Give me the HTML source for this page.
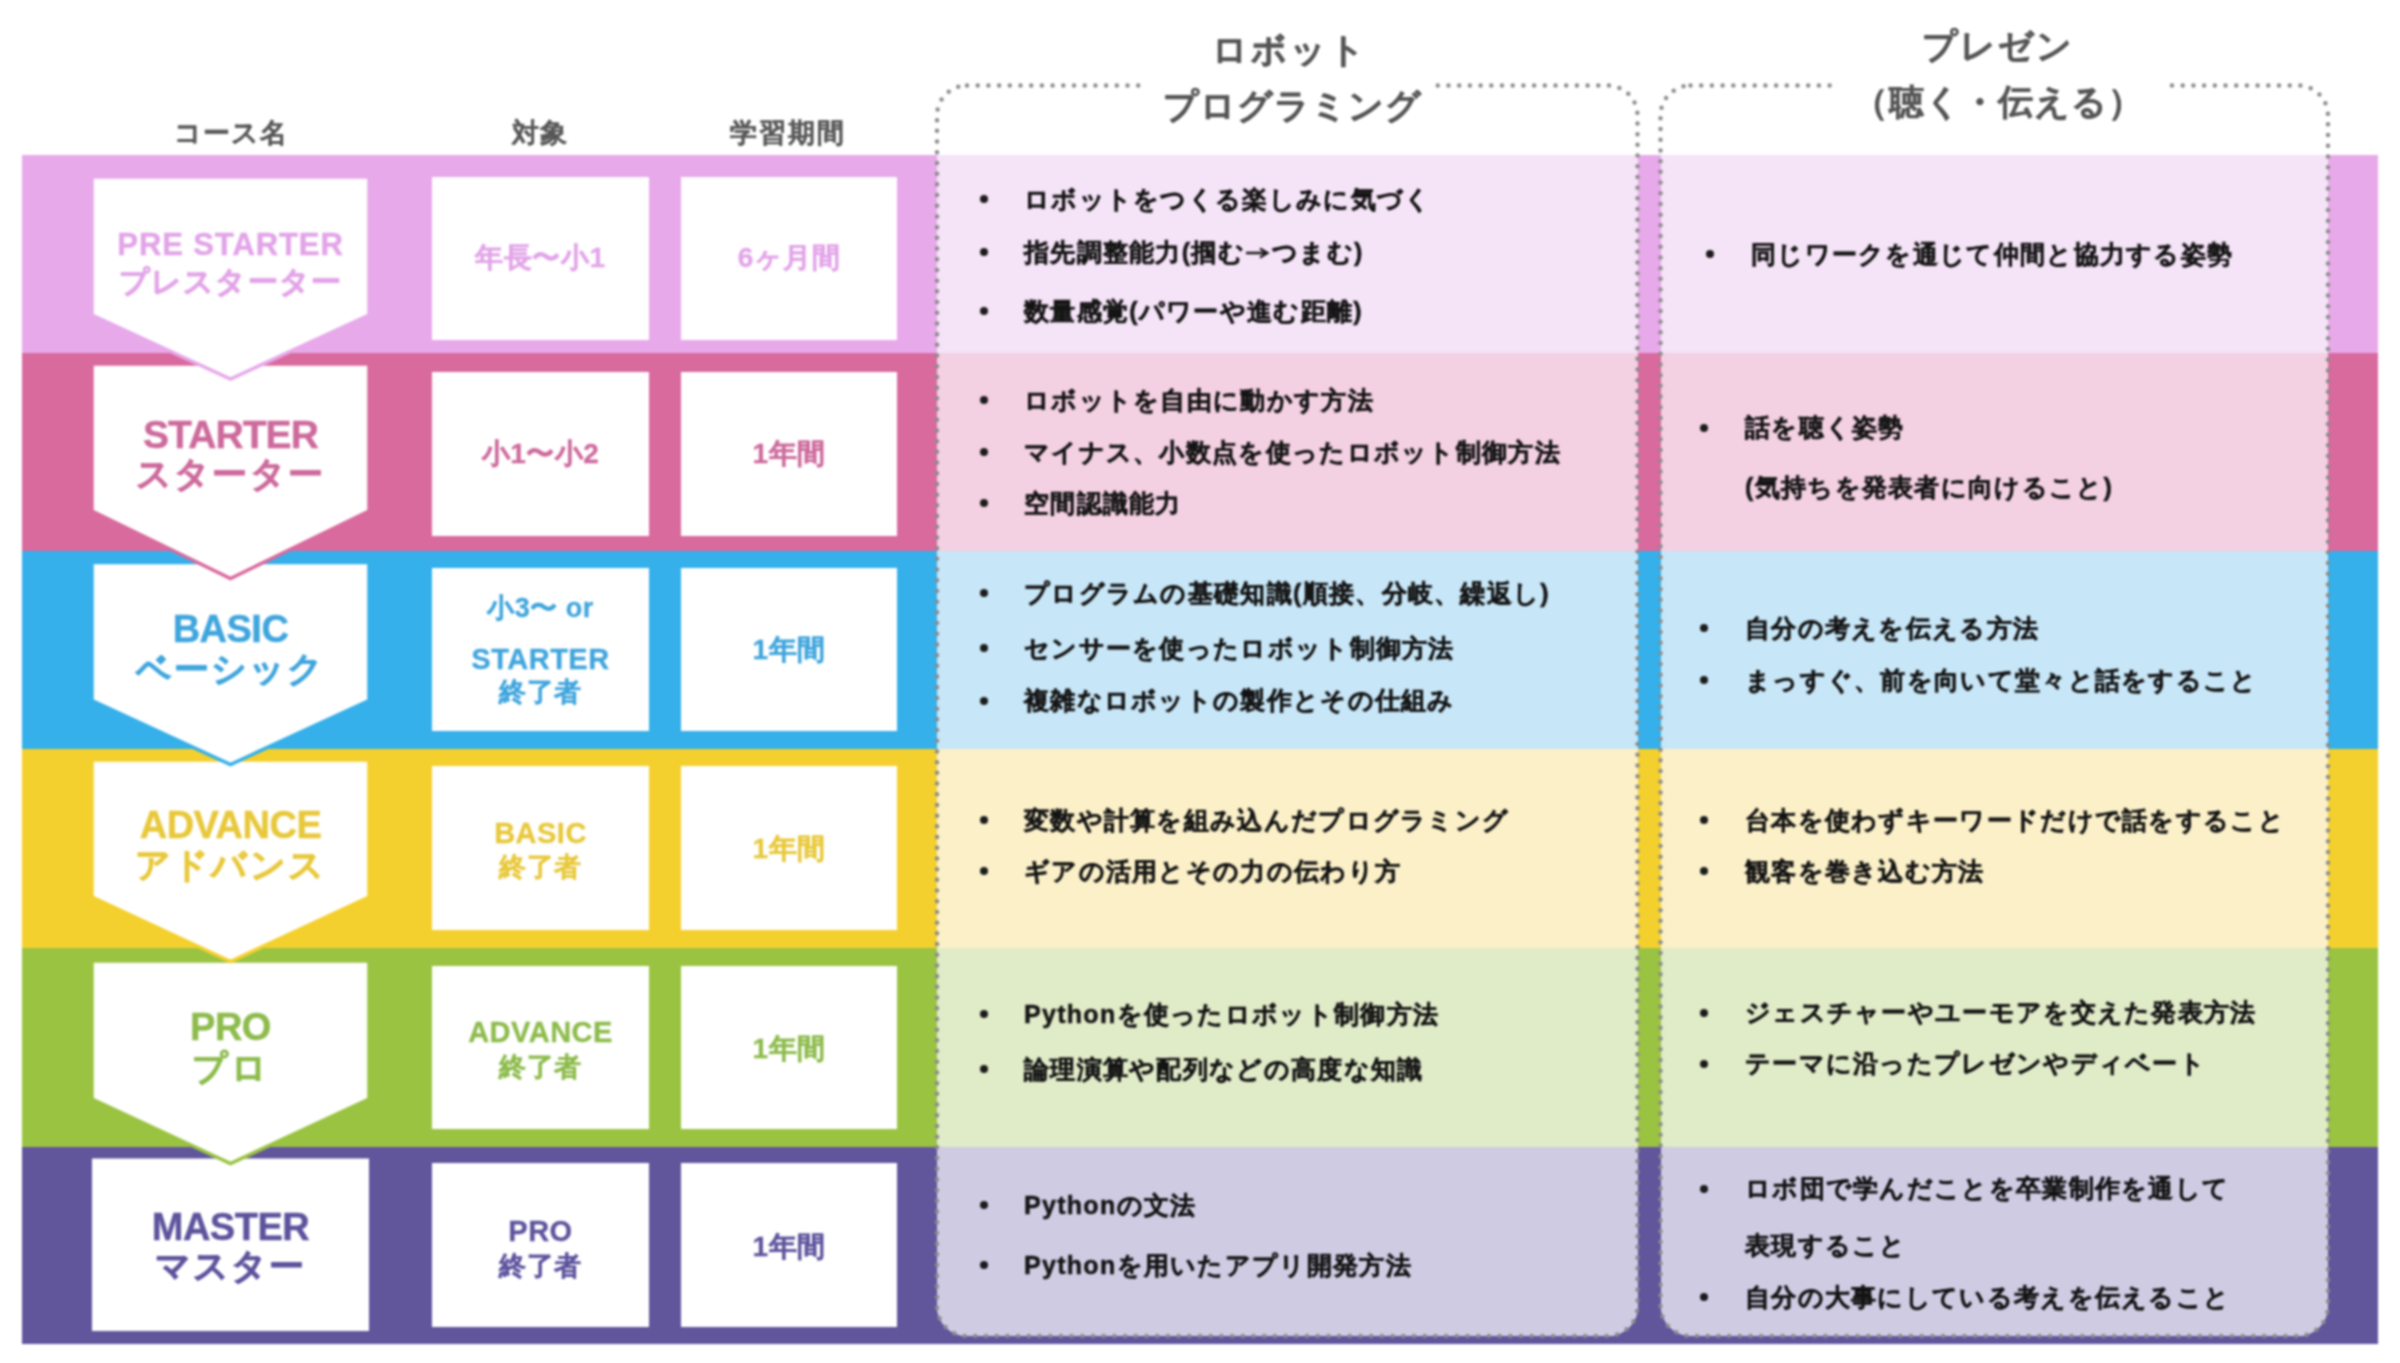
<!DOCTYPE html>
<html lang="ja"><head><meta charset="utf-8"><title>ロボ団 コース一覧</title>
<style>
html,body{margin:0;padding:0;background:#fff;}
body{width:2400px;height:1363px;position:relative;overflow:hidden;font-family:"Liberation Sans",sans-serif;font-weight:bold;}
.abs{position:absolute;}
.wrap{position:absolute;left:0;top:0;width:2400px;height:1363px;overflow:hidden;filter:blur(0.8px);}
.band{position:absolute;left:22px;width:2356px;}
.wbox{position:absolute;background:#fff;}
.cbox{position:absolute;border-radius:30px;overflow:hidden;background:#fff;}
.t{position:absolute;white-space:nowrap;line-height:1;}
.c{text-align:center;}
.hd{color:#4f4f4f;}
.li{position:absolute;white-space:nowrap;font-size:25px;letter-spacing:1.3px;color:#141414;line-height:30px;height:30px;-webkit-text-stroke:0.5px #141414;}
.bu{position:absolute;width:8px;height:8px;border-radius:50%;background:#1b1b1b;}
</style></head><body><div class="wrap">
<div class="band" style="top:155px;height:198px;background:#E7A9EA"></div>
<div class="band" style="top:353px;height:198px;background:#D96A9E"></div>
<div class="band" style="top:551px;height:198px;background:#35B0EA"></div>
<div class="band" style="top:749px;height:199px;background:#F4D02E"></div>
<div class="band" style="top:948px;height:199px;background:#9AC342"></div>
<div class="band" style="top:1147px;height:196.5px;background:#61559C"></div>
<div class="wbox" style="left:432px;top:177px;width:217px;height:163px"></div>
<div class="wbox" style="left:681px;top:177px;width:216px;height:163px"></div>
<div class="wbox" style="left:432px;top:372px;width:217px;height:164px"></div>
<div class="wbox" style="left:681px;top:372px;width:216px;height:164px"></div>
<div class="wbox" style="left:432px;top:567.5px;width:217px;height:163.5px"></div>
<div class="wbox" style="left:681px;top:567.5px;width:216px;height:163.5px"></div>
<div class="wbox" style="left:432px;top:766px;width:217px;height:164px"></div>
<div class="wbox" style="left:681px;top:766px;width:216px;height:164px"></div>
<div class="wbox" style="left:432px;top:966px;width:217px;height:163px"></div>
<div class="wbox" style="left:681px;top:966px;width:216px;height:163px"></div>
<div class="wbox" style="left:432px;top:1163px;width:217px;height:164px"></div>
<div class="wbox" style="left:681px;top:1163px;width:216px;height:164px"></div>
<div class="cbox" style="left:937px;top:85.5px;width:700.5px;height:1250.5px">
<div class="abs" style="left:0;right:0;top:69.5px;height:198px;background:#F5E3F7"></div>
<div class="abs" style="left:0;right:0;top:267.5px;height:198px;background:#F3D0E2"></div>
<div class="abs" style="left:0;right:0;top:465.5px;height:198px;background:#C7E6F7"></div>
<div class="abs" style="left:0;right:0;top:663.5px;height:199px;background:#FBF0C8"></div>
<div class="abs" style="left:0;right:0;top:862.5px;height:199px;background:#E0EBC8"></div>
<div class="abs" style="left:0;right:0;top:1061.5px;height:196.5px;background:#CFCBE3"></div>
</div>
<div class="cbox" style="left:1660.5px;top:85.5px;width:667.5px;height:1250.5px">
<div class="abs" style="left:0;right:0;top:69.5px;height:198px;background:#F5E3F7"></div>
<div class="abs" style="left:0;right:0;top:267.5px;height:198px;background:#F3D0E2"></div>
<div class="abs" style="left:0;right:0;top:465.5px;height:198px;background:#C7E6F7"></div>
<div class="abs" style="left:0;right:0;top:663.5px;height:199px;background:#FBF0C8"></div>
<div class="abs" style="left:0;right:0;top:862.5px;height:199px;background:#E0EBC8"></div>
<div class="abs" style="left:0;right:0;top:1061.5px;height:196.5px;background:#CFCBE3"></div>
</div>
<svg class="abs" style="left:0;top:0" width="2400" height="1363" viewBox="0 0 2400 1363">
<rect x="92" y="1158.5" width="277" height="172.5" fill="#fff"/>
<polygon points="92,961 369,961 369,1099 230.5,1163.5 92,1099" fill="#fff" stroke="#9AC342" stroke-width="3.5" stroke-linejoin="miter"/>
<polygon points="92,760 369,760 369,897 230.5,961.5 92,897" fill="#fff" stroke="#F4D02E" stroke-width="3.5" stroke-linejoin="miter"/>
<polygon points="92,562.5 369,562.5 369,700.6 230.5,764.5 92,700.6" fill="#fff" stroke="#35B0EA" stroke-width="3.5" stroke-linejoin="miter"/>
<polygon points="92,364 369,364 369,511 230.5,578.5 92,511" fill="#fff" stroke="#D96A9E" stroke-width="3.5" stroke-linejoin="miter"/>
<polygon points="92,177 369,177 369,315 230.5,379.0 92,315" fill="#fff" stroke="#E7A9EA" stroke-width="3.5" stroke-linejoin="miter"/>
<rect x="937" y="85.5" width="700.5" height="1250.5" rx="30" ry="30" fill="none" stroke="#8c8c8c" stroke-width="4.5" stroke-dasharray="0 10.7" stroke-linecap="round"/>
<rect x="1660.5" y="85.5" width="667.5" height="1250.5" rx="30" ry="30" fill="none" stroke="#8c8c8c" stroke-width="4.5" stroke-dasharray="0 10.7" stroke-linecap="round"/>
<rect x="1146" y="78" width="289" height="16" fill="#fff"/>
<rect x="1837" y="78" width="327" height="16" fill="#fff"/>
</svg>
<div class="t" style="left:-69px;width:600px;top:120px;font-size:27px;color:#575757;text-align:center;-webkit-text-stroke:0.2px #575757;letter-spacing:1.2px;">コース名</div>
<div class="t" style="left:240px;width:600px;top:120px;font-size:27px;color:#575757;text-align:center;-webkit-text-stroke:0.2px #575757;letter-spacing:1px;">対象</div>
<div class="t" style="left:488px;width:600px;top:120px;font-size:27px;color:#575757;text-align:center;-webkit-text-stroke:0.2px #575757;letter-spacing:1.8px;">学習期間</div>
<div class="t" style="left:990px;width:600px;top:32px;font-size:35px;color:#555;text-align:center;letter-spacing:1px;-webkit-text-stroke:0.55px #555;letter-spacing:2.8px;">ロボット</div>
<div class="t" style="left:992px;width:600px;top:88px;font-size:35px;color:#555;text-align:center;letter-spacing:1px;-webkit-text-stroke:0.55px #555;">プログラミング</div>
<div class="t" style="left:1698px;width:600px;top:27.5px;font-size:35px;color:#555;text-align:center;letter-spacing:1px;-webkit-text-stroke:0.55px #555;letter-spacing:2.2px;">プレゼン</div>
<div class="t" style="left:1698px;width:600px;top:84px;font-size:35px;color:#555;text-align:center;letter-spacing:1px;-webkit-text-stroke:0.55px #555;">（聴く・伝える）</div>
<div class="t" style="left:-69.5px;width:600px;top:228.5px;font-size:31px;color:#E2A4E8;text-align:center;letter-spacing:0.9px;-webkit-text-stroke:0.45px #E2A4E8;">PRE STARTER</div>
<div class="t" style="left:-69.5px;width:600px;top:266.5px;font-size:30px;color:#E2A4E8;text-align:center;letter-spacing:1.2px;-webkit-text-stroke:0.8px #E2A4E8;">プレスターター</div>
<div class="t" style="left:-69.5px;width:600px;top:415px;font-size:39px;color:#CD6A9C;text-align:center;letter-spacing:-0.9px;-webkit-text-stroke:0.45px #CD6A9C;">STARTER</div>
<div class="t" style="left:-69.5px;width:600px;top:456px;font-size:35px;color:#CD6A9C;text-align:center;letter-spacing:2.2px;-webkit-text-stroke:0.8px #CD6A9C;">スターター</div>
<div class="t" style="left:-69.5px;width:600px;top:610px;font-size:38px;color:#3FA5DD;text-align:center;letter-spacing:-0.5px;-webkit-text-stroke:0.45px #3FA5DD;">BASIC</div>
<div class="t" style="left:-69.5px;width:600px;top:651px;font-size:35px;color:#3FA5DD;text-align:center;letter-spacing:2.2px;-webkit-text-stroke:0.8px #3FA5DD;">ベーシック</div>
<div class="t" style="left:-69.5px;width:600px;top:806px;font-size:38px;color:#E8C83A;text-align:center;letter-spacing:-0.5px;-webkit-text-stroke:0.45px #E8C83A;">ADVANCE</div>
<div class="t" style="left:-69.5px;width:600px;top:847px;font-size:35px;color:#E8C83A;text-align:center;letter-spacing:2.2px;-webkit-text-stroke:0.8px #E8C83A;">アドバンス</div>
<div class="t" style="left:-69.5px;width:600px;top:1008px;font-size:38px;color:#8DBB4C;text-align:center;letter-spacing:-0.5px;-webkit-text-stroke:0.45px #8DBB4C;">PRO</div>
<div class="t" style="left:-69.5px;width:600px;top:1050px;font-size:35px;color:#8DBB4C;text-align:center;letter-spacing:3px;-webkit-text-stroke:0.8px #8DBB4C;">プロ</div>
<div class="t" style="left:-69.5px;width:600px;top:1208px;font-size:38px;color:#5D539D;text-align:center;letter-spacing:-0.5px;-webkit-text-stroke:0.45px #5D539D;">MASTER</div>
<div class="t" style="left:-69.5px;width:600px;top:1248px;font-size:35px;color:#5D539D;text-align:center;letter-spacing:2.2px;-webkit-text-stroke:0.8px #5D539D;">マスター</div>
<div class="t" style="left:240.5px;width:600px;top:244px;font-size:28px;color:#E2A4E8;text-align:center;letter-spacing:0.5px;-webkit-text-stroke:0.3px #E2A4E8;">年長〜小1</div>
<div class="t" style="left:240.5px;width:600px;top:440px;font-size:28px;color:#CD6A9C;text-align:center;letter-spacing:0.5px;-webkit-text-stroke:0.3px #CD6A9C;">小1〜小2</div>
<div class="t" style="left:240.5px;width:600px;top:595px;font-size:27px;color:#3FA5DD;text-align:center;letter-spacing:0.5px;-webkit-text-stroke:0.3px #3FA5DD;">小3〜 or</div>
<div class="t" style="left:240.5px;width:600px;top:645.2px;font-size:29px;color:#3FA5DD;text-align:center;letter-spacing:0.5px;-webkit-text-stroke:0.3px #3FA5DD;">STARTER</div>
<div class="t" style="left:240.5px;width:600px;top:679px;font-size:27px;color:#3FA5DD;text-align:center;letter-spacing:0.5px;-webkit-text-stroke:0.3px #3FA5DD;">終了者</div>
<div class="t" style="left:240.5px;width:600px;top:819px;font-size:29px;color:#E8C83A;text-align:center;letter-spacing:0.5px;-webkit-text-stroke:0.3px #E8C83A;">BASIC</div>
<div class="t" style="left:240.5px;width:600px;top:853.5px;font-size:27px;color:#E8C83A;text-align:center;letter-spacing:0.5px;-webkit-text-stroke:0.3px #E8C83A;">終了者</div>
<div class="t" style="left:240.5px;width:600px;top:1018px;font-size:29px;color:#8DBB4C;text-align:center;letter-spacing:0.5px;-webkit-text-stroke:0.3px #8DBB4C;">ADVANCE</div>
<div class="t" style="left:240.5px;width:600px;top:1053.5px;font-size:27px;color:#8DBB4C;text-align:center;letter-spacing:0.5px;-webkit-text-stroke:0.3px #8DBB4C;">終了者</div>
<div class="t" style="left:240.5px;width:600px;top:1217.4px;font-size:29px;color:#5D539D;text-align:center;letter-spacing:0.5px;-webkit-text-stroke:0.3px #5D539D;">PRO</div>
<div class="t" style="left:240.5px;width:600px;top:1252.5px;font-size:27px;color:#5D539D;text-align:center;letter-spacing:0.5px;-webkit-text-stroke:0.3px #5D539D;">終了者</div>
<div class="t" style="left:489px;width:600px;top:244px;font-size:28px;color:#E2A4E8;text-align:center;letter-spacing:0.5px;-webkit-text-stroke:0.3px #E2A4E8;">6ヶ月間</div>
<div class="t" style="left:489px;width:600px;top:440px;font-size:28px;color:#CD6A9C;text-align:center;letter-spacing:0.5px;-webkit-text-stroke:0.3px #CD6A9C;">1年間</div>
<div class="t" style="left:489px;width:600px;top:636px;font-size:28px;color:#3FA5DD;text-align:center;letter-spacing:0.5px;-webkit-text-stroke:0.3px #3FA5DD;">1年間</div>
<div class="t" style="left:489px;width:600px;top:835px;font-size:28px;color:#E8C83A;text-align:center;letter-spacing:0.5px;-webkit-text-stroke:0.3px #E8C83A;">1年間</div>
<div class="t" style="left:489px;width:600px;top:1035px;font-size:28px;color:#8DBB4C;text-align:center;letter-spacing:0.5px;-webkit-text-stroke:0.3px #8DBB4C;">1年間</div>
<div class="t" style="left:489px;width:600px;top:1233px;font-size:28px;color:#5D539D;text-align:center;letter-spacing:0.5px;-webkit-text-stroke:0.3px #5D539D;">1年間</div>
<div class="li" style="left:1024px;top:184.0px">ロボットをつくる楽しみに気づく</div>
<div class="bu" style="left:980px;top:195.3px"></div>
<div class="li" style="left:1024px;top:237.0px">指先調整能力(掴む<svg width="26" height="14" viewBox="0 0 26 14" style="vertical-align:1px;margin:0 1px 0 0"><path d="M1 7H22M15 2.5L22.5 7L15 11.5" fill="none" stroke="#1b1b1b" stroke-width="2.3" stroke-linejoin="miter"/></svg>つまむ)</div>
<div class="bu" style="left:980px;top:248.3px"></div>
<div class="li" style="left:1024px;top:296.0px">数量感覚(パワーや進む距離)</div>
<div class="bu" style="left:980px;top:307.3px"></div>
<div class="li" style="left:1024px;top:384.6px">ロボットを自由に動かす方法</div>
<div class="bu" style="left:980px;top:395.9px"></div>
<div class="li" style="left:1024px;top:437.0px">マイナス、小数点を使ったロボット制御方法</div>
<div class="bu" style="left:980px;top:448.3px"></div>
<div class="li" style="left:1024px;top:488.0px">空間認識能力</div>
<div class="bu" style="left:980px;top:499.3px"></div>
<div class="li" style="left:1024px;top:577.5px">プログラムの基礎知識(順接、分岐、繰返し)</div>
<div class="bu" style="left:980px;top:588.8px"></div>
<div class="li" style="left:1024px;top:633.0px">センサーを使ったロボット制御方法</div>
<div class="bu" style="left:980px;top:644.3px"></div>
<div class="li" style="left:1024px;top:685.4px">複雑なロボットの製作とその仕組み</div>
<div class="bu" style="left:980px;top:696.7px"></div>
<div class="li" style="left:1024px;top:804.8px">変数や計算を組み込んだプログラミング</div>
<div class="bu" style="left:980px;top:816.1px"></div>
<div class="li" style="left:1024px;top:855.8px">ギアの活用とその力の伝わり方</div>
<div class="bu" style="left:980px;top:867.1px"></div>
<div class="li" style="left:1024px;top:999.0px">Pythonを使ったロボット制御方法</div>
<div class="bu" style="left:980px;top:1010.3px"></div>
<div class="li" style="left:1024px;top:1054.0px">論理演算や配列などの高度な知識</div>
<div class="bu" style="left:980px;top:1065.3px"></div>
<div class="li" style="left:1024px;top:1190.0px">Pythonの文法</div>
<div class="bu" style="left:980px;top:1201.3px"></div>
<div class="li" style="left:1024px;top:1249.8px">Pythonを用いたアプリ開発方法</div>
<div class="bu" style="left:980px;top:1261.1px"></div>
<div class="li" style="left:1751px;top:239.0px">同じワークを通じて仲間と協力する姿勢</div>
<div class="bu" style="left:1706px;top:250.3px"></div>
<div class="li" style="left:1745px;top:412.3px">話を聴く姿勢</div>
<div class="bu" style="left:1700px;top:423.6px"></div>
<div class="li" style="left:1745px;top:471.8px">(気持ちを発表者に向けること)</div>
<div class="li" style="left:1745px;top:613.0px">自分の考えを伝える方法</div>
<div class="bu" style="left:1700px;top:624.3px"></div>
<div class="li" style="left:1745px;top:664.6px">まっすぐ、前を向いて堂々と話をすること</div>
<div class="bu" style="left:1700px;top:675.9px"></div>
<div class="li" style="left:1745px;top:804.8px">台本を使わずキーワードだけで話をすること</div>
<div class="bu" style="left:1700px;top:816.1px"></div>
<div class="li" style="left:1745px;top:855.8px">観客を巻き込む方法</div>
<div class="bu" style="left:1700px;top:867.1px"></div>
<div class="li" style="left:1745px;top:997.3px">ジェスチャーやユーモアを交えた発表方法</div>
<div class="bu" style="left:1700px;top:1008.6px"></div>
<div class="li" style="left:1745px;top:1048.2px">テーマに沿ったプレゼンやディベート</div>
<div class="bu" style="left:1700px;top:1059.5px"></div>
<div class="li" style="left:1745px;top:1173.4px">ロボ団で学んだことを卒業制作を通して</div>
<div class="bu" style="left:1700px;top:1184.7px"></div>
<div class="li" style="left:1745px;top:1229.5px">表現すること</div>
<div class="li" style="left:1745px;top:1281.7px">自分の大事にしている考えを伝えること</div>
<div class="bu" style="left:1700px;top:1293.0px"></div>
</div></body></html>
